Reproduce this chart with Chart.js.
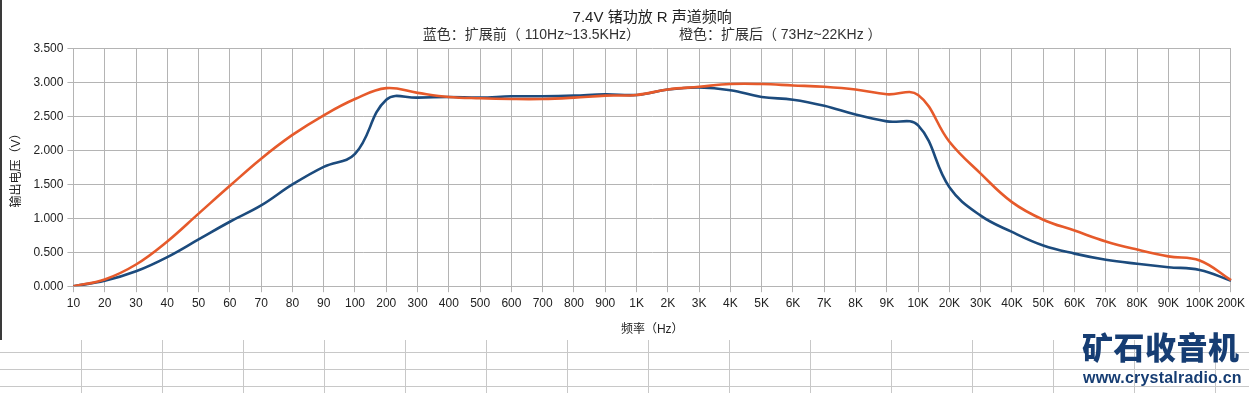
<!DOCTYPE html>
<html>
<head>
<meta charset="utf-8">
<script src="https://cdn.jsdelivr.net/npm/chart.js@4/dist/chart.umd.min.js"></script>
<style>
  html, body { margin: 0; padding: 0; background: #fff; }
  #page { position: relative; width: 1249px; height: 393px; overflow: hidden; background: #fff; }
  #sheet {
    position: absolute; left: 0; top: 340px; width: 1249px; height: 53px;
    background-image:
      repeating-linear-gradient(to right, transparent 0 80px, #c8c8c8 80px 81px),
      repeating-linear-gradient(to bottom, transparent 0 16px, #c8c8c8 16px 17px);
    background-position: 1px 0, 0 -4px;
  }
  #box { position: absolute; left: 0; top: 0; width: 1249px; height: 340px; background: #fff; }
  #box:before { content: ""; position: absolute; left: 0; top: 0; width: 2px; height: 340px; background: #3a3a3a; }
  #logo1 {
    position: absolute; left: 1082px; top: 326px; font-family: "Noto Sans CJK SC", sans-serif;
    font-weight: 900; font-size: 31px; color: #163d73; letter-spacing: 0.5px; line-height: 40px;
  }
  #logo2 {
    position: absolute; left: 1083px; top: 368px; font-family: "Liberation Sans", Arial, sans-serif;
    font-weight: bold; font-size: 16px; color: #163d73; line-height: 19px; letter-spacing: 0.2px;
  }
</style>
</head>
<body>
<div id="page">
  <div id="sheet"></div>
  <div id="box"><canvas id="freqChart" width="1249" height="340"></canvas></div>
  <div id="logo1">矿石收音机</div>
  <div id="logo2">www.crystalradio.cn</div>
</div>
<script>
// 频率点
const freqLabels = ['10', '20', '30', '40', '50', '60', '70', '80', '90', '100',
  '200', '300', '400', '500', '600', '700', '800', '900',
  '1K', '2K', '3K', '4K', '5K', '6K', '7K', '8K', '9K', '10K',
  '20K', '30K', '40K', '50K', '60K', '70K', '80K', '90K', '100K', '200K'];

// 蓝色：扩展前
const beforeVolts = [0.00, 0.08, 0.22, 0.43, 0.69, 0.95, 1.19, 1.50, 1.76, 1.95,
  2.75, 2.78, 2.79, 2.78, 2.80, 2.80, 2.81, 2.83,
  2.82, 2.90, 2.93, 2.89, 2.79, 2.75, 2.66, 2.53, 2.43, 2.37,
  1.46, 1.04, 0.80, 0.60, 0.48, 0.39, 0.33, 0.28, 0.24, 0.08];

// 橙色：扩展后
const afterVolts = [0.00, 0.10, 0.32, 0.66, 1.07, 1.48, 1.88, 2.23, 2.52, 2.76,
  2.92, 2.85, 2.79, 2.77, 2.76, 2.76, 2.78, 2.81,
  2.82, 2.90, 2.94, 2.98, 2.98, 2.96, 2.94, 2.90, 2.83, 2.82,
  2.13, 1.66, 1.24, 0.98, 0.82, 0.66, 0.54, 0.44, 0.38, 0.09];

const yMin = 0, yMax = 3.5, yStep = 0.5;

const fontFam = "'Liberation Sans', Arial, 'Noto Sans CJK SC', sans-serif";
const gridGray = '#b4b4b4';

const ctx = document.getElementById('freqChart').getContext('2d');
const freqChart = new Chart(ctx, {
    type: 'line',
    data: {
        labels: freqLabels,
        datasets: [{
            label: '扩展前',
            data: beforeVolts,
            borderColor: '#1c4b7d',
            borderWidth: 2.6,
            pointRadius: 0,
            tension: 0.4,
            fill: false,
            order: 2
        }, {
            label: '扩展后',
            data: afterVolts,
            borderColor: '#e65a2b',
            borderWidth: 2.6,
            pointRadius: 0,
            tension: 0.4,
            fill: false,
            order: 1
        }]
    },
    options: {
        responsive: false,
        animation: false,
        devicePixelRatio: 1,
        layout: { padding: { left: 4, right: 5, top: 0, bottom: 0 } },
        plugins: {
            legend: { display: false },
            tooltip: { enabled: false },
            title: {
                display: true,
                text: '7.4V 锗功放 R 声道频响',
                fullSize: false,
                color: '#222',
                font: { family: fontFam, size: 15, weight: 'normal' },
                padding: { top: 9, bottom: 0 }
            },
            subtitle: {
                display: true,
                text: '蓝色：扩展前（ 110Hz~13.5KHz）\u3000\u3000\u3000 橙色：扩展后（ 73Hz~22KHz ）',
                fullSize: false,
                color: '#333',
                font: { family: fontFam, size: 14, weight: 'normal' },
                padding: { top: 0, bottom: 5 }
            }
        },
        scales: {
            x: {
                offset: false,
                grid: { color: gridGray, tickLength: 6, drawTicks: true },
                border: { color: gridGray },
                ticks: {
                    color: '#222', autoSkip: false, maxRotation: 0, minRotation: 0, padding: 4,
                    font: { family: fontFam, size: 12 }
                },
                title: {
                    display: true, text: '频率（Hz）', color: '#222',
                    font: { family: fontFam, size: 12 },
                    padding: { top: 8, bottom: 3 }
                }
            },
            y: {
                min: yMin,
                max: yMax,
                grid: { color: gridGray, tickLength: 6 },
                border: { color: gridGray },
                ticks: {
                    stepSize: yStep, color: '#222', padding: 4,
                    font: { family: fontFam, size: 12 },
                    callback: v => Number(v).toFixed(3)
                },
                title: {
                    display: true, text: '输出电压（V）', color: '#222',
                    font: { family: fontFam, size: 12 },
                    padding: { top: 5, bottom: 6 }
                }
            }
        }
    }
});
</script>
</body>
</html>
